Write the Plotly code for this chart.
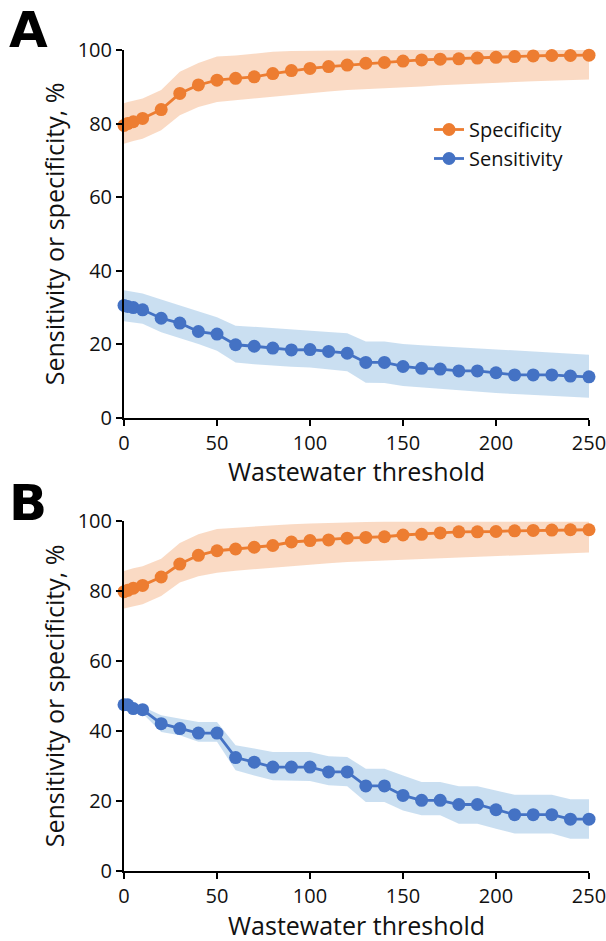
import plotly.graph_objects as go

thresholds = [0, 2, 5, 10, 20, 30, 40, 50, 60, 70, 80, 90, 100, 110, 120, 130, 140, 150, 160, 170, 180, 190, 200, 210, 220, 230, 240, 250]

# Panel A
spec_a = [79.5, 80.0, 80.5, 81.4, 83.8, 88.2, 90.5, 91.8, 92.3, 92.7, 93.6, 94.4, 95.0, 95.5, 95.9, 96.4, 96.6, 97.0, 97.3, 97.5, 97.6, 97.8, 98.0, 98.2, 98.4, 98.5, 98.5, 98.6]
spec_a_hi = [85.5, 85.9, 86.2, 86.8, 89.1, 94.1, 96.5, 98.2, 98.5, 99.0, 99.5, 99.7, 99.8, 99.9, 100, 100, 100, 100, 100, 100, 100, 100, 100, 100, 100, 100, 100, 100]
spec_a_lo = [74.5, 74.9, 75.3, 75.9, 78.2, 82.3, 84.5, 85.9, 86.4, 86.8, 87.3, 87.8, 88.2, 88.7, 89.1, 89.4, 89.6, 89.9, 90.1, 90.4, 90.6, 90.9, 91.1, 91.3, 91.5, 91.7, 91.9, 92.0]
sens_a = [30.6, 30.3, 30.0, 29.4, 27.1, 25.8, 23.5, 22.8, 19.9, 19.5, 19.0, 18.5, 18.6, 18.1, 17.6, 15.1, 15.1, 14.0, 13.5, 13.3, 12.8, 12.8, 12.3, 11.7, 11.7, 11.7, 11.4, 11.2]
sens_a_hi = [34.7, 34.5, 34.2, 33.8, 32.2, 30.6, 28.8, 27.4, 25.1, 24.8, 24.5, 24.1, 23.8, 23.4, 23.0, 20.8, 20.8, 20.1, 19.8, 19.5, 19.2, 18.9, 18.5, 18.2, 17.9, 17.6, 17.4, 17.2]
sens_a_lo = [26.3, 26.1, 25.9, 25.6, 23.3, 21.8, 20.1, 18.3, 15.1, 14.6, 14.2, 13.9, 13.7, 13.2, 12.7, 9.6, 9.5, 8.7, 8.3, 7.9, 7.6, 7.2, 6.8, 6.5, 6.3, 6.0, 5.7, 5.5]

# Panel B
spec_b = [79.8, 80.2, 80.8, 81.6, 84.0, 87.7, 90.2, 91.5, 92.0, 92.5, 93.0, 94.0, 94.4, 94.6, 95.1, 95.3, 95.5, 96.0, 96.2, 96.6, 96.9, 96.9, 97.0, 97.2, 97.3, 97.4, 97.5, 97.5]
spec_b_hi = [85.7, 86.1, 86.5, 87.1, 89.2, 93.7, 96.2, 97.7, 98.1, 98.5, 98.9, 99.1, 99.3, 99.5, 99.6, 99.7, 99.8, 99.8, 99.8, 99.8, 99.8, 99.8, 99.8, 99.8, 99.8, 99.8, 99.8, 99.8]
spec_b_lo = [75.0, 75.3, 75.6, 76.2, 78.6, 82.4, 84.2, 85.2, 85.8, 86.2, 86.6, 87.0, 87.5, 87.9, 88.3, 88.5, 88.7, 88.9, 89.1, 89.3, 89.5, 89.7, 89.9, 90.1, 90.3, 90.5, 90.8, 91.0]
sens_b = [47.5, 47.5, 46.4, 46.1, 42.1, 40.7, 39.4, 39.4, 32.4, 31.1, 29.7, 29.7, 29.7, 28.3, 28.3, 24.3, 24.3, 21.6, 20.2, 20.2, 19.0, 19.0, 17.5, 16.1, 16.1, 16.1, 14.8, 14.8]
sens_b_hi = [48.3, 48.3, 47.6, 46.9, 44.5, 43.5, 42.6, 42.6, 35.9, 35.0, 34.0, 34.0, 34.0, 32.8, 32.6, 29.2, 29.2, 27.3, 25.4, 25.4, 24.2, 24.2, 23.0, 21.8, 21.8, 21.8, 20.5, 20.5]
sens_b_lo = [46.9, 46.9, 45.8, 45.0, 39.7, 38.8, 36.9, 36.9, 28.8, 27.3, 25.9, 25.8, 25.7, 24.5, 24.2, 19.7, 19.7, 17.3, 15.9, 15.9, 13.5, 13.5, 12.1, 10.7, 10.7, 10.7, 9.2, 9.2]

x_ticks = [0, 50, 100, 150, 200, 250]
y_ticks = [0, 20, 40, 60, 80, 100]

ORANGE = "#ED7D31"
BLUE = "#4472C4"
ORANGE_BAND = "rgba(240,140,70,0.32)"
BLUE_BAND = "rgba(91,155,213,0.32)"

fig = go.Figure()

def add_panel(xa, ya, spec, spec_hi, spec_lo, sens, sens_hi, sens_lo, show_legend):
    for hi, lo, col in [(spec_hi, spec_lo, ORANGE_BAND), (sens_hi, sens_lo, BLUE_BAND)]:
        fig.add_trace(go.Scatter(
            x=thresholds + thresholds[::-1], y=hi + lo[::-1],
            fill="toself", fillcolor=col, line=dict(width=0),
            mode="lines", hoverinfo="skip", showlegend=False,
            xaxis=xa, yaxis=ya))
    fig.add_trace(go.Scatter(
        x=thresholds, y=spec, mode="lines+markers", name="Specificity",
        line=dict(color=ORANGE, width=2.8), marker=dict(color=ORANGE, size=13),
        cliponaxis=False, showlegend=show_legend, xaxis=xa, yaxis=ya))
    fig.add_trace(go.Scatter(
        x=thresholds, y=sens, mode="lines+markers", name="Sensitivity",
        line=dict(color=BLUE, width=2.8), marker=dict(color=BLUE, size=13),
        cliponaxis=False, showlegend=show_legend, xaxis=xa, yaxis=ya))

add_panel("x", "y", spec_a, spec_a_hi, spec_a_lo, sens_a, sens_a_hi, sens_a_lo, True)
add_panel("x2", "y2", spec_b, spec_b_hi, spec_b_lo, sens_b, sens_b_hi, sens_b_lo, False)

W, H = 606, 941
L, R, T, B = 124, 17, 50, 70
PW, PH = W - L - R, H - T - B

def py(pix):  # window pixel y -> plot-area paper fraction
    return (H - B - pix) / PH

def px(pix):
    return (pix - L) / PW

tick_font = dict(family="Open Sans", size=20, color="#111")
title_font = dict(family="Open Sans", size=25, color="#111")

def xaxis(anchor):
    return dict(domain=[0, 1], range=[0, 250], tickvals=x_ticks,
                showline=True, linecolor="black", linewidth=2, ticks="outside",
                ticklen=6, tickwidth=1.5, tickcolor="black", showgrid=False, zeroline=False,
                tickfont=tick_font, anchor=anchor, automargin=False,
                ticklabeloverflow="allow")

def yaxis(dom, anchor):
    return dict(domain=dom, range=[0, 100], tickvals=y_ticks,
                showline=True, linecolor="black", linewidth=2, ticks="outside",
                ticklen=6, tickwidth=1.5, tickcolor="black", showgrid=False, zeroline=False,
                tickfont=tick_font, anchor=anchor, automargin=False,
                ticklabeloverflow="allow",
                title=dict(text="Sensitivity or specificity, %", font=title_font, standoff=6))

def xtitle(ypix):
    return dict(text="Wastewater threshold", x=0.5, y=py(ypix), xref="paper", yref="paper",
                xanchor="center", yanchor="middle", showarrow=False, font=title_font,
                borderpad=0)

def letter(txt, ypix):
    return dict(text="<b>%s</b>" % txt, x=px(8), y=py(ypix), xref="paper", yref="paper",
                xanchor="left", yanchor="top", showarrow=False, borderpad=0,
                font=dict(family="DejaVu Sans", size=50, color="black"))

fig.update_layout(
    width=W, height=H, margin=dict(l=L, r=R, t=T, b=B, autoexpand=False),
    paper_bgcolor="white", plot_bgcolor="white",
    xaxis=xaxis("y"), yaxis=yaxis([py(418), py(50)], "x"),
    xaxis2=xaxis("y2"), yaxis2=yaxis([py(871), py(521)], "x2"),
    legend=dict(x=px(429), y=py(110), xanchor="left", yanchor="top",
                font=dict(family="Open Sans", size=20, color="#111"),
                bgcolor="rgba(0,0,0,0)"),
    annotations=[
        letter("A", 0),
        letter("B", 473),
        xtitle(471),
        xtitle(925),
    ],
)

fig.write_html(
    "out.html",
    config={"displayModeBar": False},
    post_script="document.body.style.margin='0';document.body.style.overflow='hidden';",
)
